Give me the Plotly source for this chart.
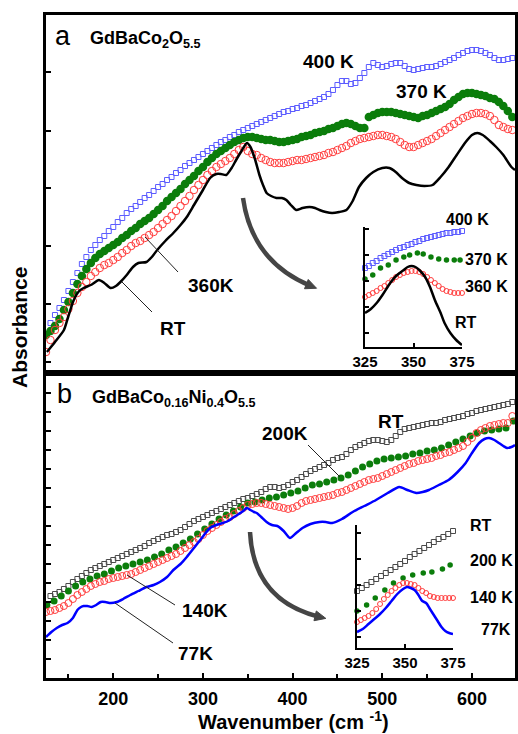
import math
import plotly.graph_objects as go

# ---------------- data (absorbance, arbitrary units) ----------------
# Panel a : GdBaCo2O5.5
A_WN = [125, 130, 135, 140, 145, 150, 155, 160, 165, 170, 175, 180, 185, 190, 195, 200, 205, 210, 215, 220,
        225, 230, 235, 240, 245, 250, 255, 260, 265, 270, 275, 280, 285, 290, 295, 300, 305, 310, 315, 320,
        325, 330, 335, 340, 345, 350, 355, 360, 365, 370, 375, 380, 385, 390, 395, 400, 405, 410, 415, 420,
        425, 430, 435, 440, 445, 450, 455, 460, 465, 470, 475, 480, 485, 490, 495, 500, 505, 510, 515, 520,
        525, 530, 535, 540, 545, 550, 555, 560, 565, 570, 575, 580, 585, 590, 595, 600, 605, 610, 615, 620,
        625, 630, 635, 640, 645]
A_400K = [50, 58, 65, 73, 82, 91, 100, 109, 116, 123,
          128, 133, 137, 142, 146, 151, 155, 160, 164, 167,
          171, 175, 178, 182, 186, 189, 193, 196, 200, 203,
          207, 210, 213, 216, 219, 222, 225, 228, 231, 233,
          236, 238, 241, 243, 245, 247, 249, 251, 253, 255,
          257, 259, 261, 262, 264, 265, 267, 268, 270, 272,
          274, 276, 279, 283, 288, 292, 292, 289, 290, 295,
          300, 306, 310, 308, 306, 307, 309, 310, 310, 307,
          304, 303, 304, 305, 306, 306, 307, 309, 311, 313,
          315, 318, 320, 322, 323, 323, 322, 320, 318, 315,
          313, 313, 314, 315]
A_370K = [38, 42, 47, 54, 63, 71, 80, 89, 97, 104,
          110, 115, 119, 122, 125, 128, 131, 135, 138, 142,
          145, 149, 152, 155, 159, 163, 167, 172, 176, 180,
          184, 189, 193, 197, 202, 206, 211, 215, 219, 222,
          225, 228, 231, 233, 235, 236, 236, 235, 234, 233,
          233, 232, 231, 231, 232, 233, 234, 236, 237, 238,
          240, 241, 242, 244, 245, 247, 249, 250, 249, 247,
          245, 245, 256, 258, 260, 261, 261, 261, 260, 259,
          258, 257, 256, 255, 257, 258, 260, 262, 264, 266,
          269, 273, 276, 279, 280, 280, 279, 278, 277, 275,
          274, 271, 267, 262, 256]
A_360K = [21, 33, 43, 50, 56, 64, 72, 80, 86, 91,
          97, 101, 105, 108, 110, 113, 116, 120, 123, 127,
          130, 132, 135, 138, 141, 145, 149, 153, 157, 162,
          167, 172, 177, 183, 188, 193, 198, 202, 206, 209,
          212, 215, 219, 223, 226, 222, 219, 218, 215, 213,
          211, 210, 210, 210, 211, 212, 213, 213, 214, 215,
          216, 217, 218, 220, 221, 223, 225, 227, 230, 232,
          234, 235, 236, 237, 238, 238, 237, 236, 234, 231,
          228, 226, 226, 228, 230, 232, 234, 237, 240, 243,
          246, 249, 252, 255, 257, 259, 260, 260, 259, 257,
          253, 248, 246, 244, 243]
A_RT_WN = [126, 135, 145, 150, 156, 162, 167, 175, 184, 190, 197, 203, 208, 215, 222, 228, 237, 243, 249, 258,
           267, 275, 282, 290, 300, 308, 315, 320, 326, 332, 337, 343, 349, 353, 358, 363, 367, 371, 376, 382,
           388, 393, 398, 404, 411, 419, 425, 430, 437, 444, 452, 460, 467, 474, 482, 490, 500, 508, 515, 522,
           530, 538, 547, 556, 565, 574, 583, 593, 600, 606, 612, 620, 627, 635, 644, 648]
A_RT = [21, 31, 43, 57, 73, 82, 85, 88, 93, 90, 85, 87, 91, 98, 106, 110, 111, 116, 123, 132,
        140, 148, 156, 168, 183, 195, 199, 199, 198, 205, 213, 222, 230, 226, 214, 198, 188, 180, 177, 175,
        175, 173, 168, 163, 165, 166, 165, 163, 161, 160, 161, 163, 172, 186, 195, 201, 205, 205, 201, 195,
        190, 188, 187, 188, 196, 206, 218, 231, 238, 240, 238, 232, 226, 218, 206, 203]

# Panel b : GdBaCo0.16Ni0.4O5.5
B_WN = A_WN
B_RT = [82, 84, 86, 89, 92, 96, 99, 102, 105, 108,
        110, 112, 114, 116, 118, 120, 122, 124, 126, 128,
        130, 132, 135, 137, 139, 141, 143, 144, 146, 148,
        151, 154, 157, 159, 161, 163, 165, 167, 169, 171,
        173, 175, 177, 179, 180, 182, 184, 186, 189, 191,
        191, 190, 191, 193, 196, 198, 201, 204, 207, 209,
        211, 213, 215, 218, 220, 221, 224, 228, 231, 233,
        235, 237, 238, 238, 237, 236, 238, 242, 246, 249,
        250, 251, 252, 253, 254, 255, 255, 256, 258, 259,
        260, 261, 262, 264, 265, 267, 268, 269, 270, 271,
        272, 273, 274, 276]
B_140K = [66, 67, 68, 70, 72, 75, 79, 83, 86, 89,
          92, 94, 96, 97, 99, 100, 101, 102, 103, 104,
          106, 108, 110, 112, 114, 116, 118, 120, 122, 124,
          127, 130, 133, 136, 139, 143, 147, 150, 153, 156,
          159, 161, 164, 167, 170, 173, 174, 175, 175, 174,
          173, 172, 171, 170, 169, 170, 172, 175, 177, 178,
          179, 180, 181, 182, 183, 185, 186, 188, 190, 192,
          194, 196, 198, 199, 200, 202, 204, 206, 208, 210,
          212, 214, 215, 217, 218, 219, 220, 222, 223, 225,
          226, 228, 230, 232, 236, 240, 245, 248, 250, 252,
          253, 254, 255, 255, 262]
B_200K_WN = [126, 134, 142, 150, 158, 166, 174, 182, 190, 198, 206, 214, 222, 230, 238, 246, 254, 262, 270, 278,
             286, 294, 302, 310, 318, 326, 334, 342, 350, 358, 366, 374, 382, 390, 398, 406, 414, 422, 430, 438,
             446, 454, 462, 470, 478, 486, 494, 502, 510, 518, 526, 534, 542, 550, 558, 566, 574, 582, 590, 598,
             606, 614, 622, 630, 638, 646]
B_200K = [73, 77, 82, 87, 92, 96, 99, 102, 104, 107, 110, 112, 114, 116, 118, 121, 124, 128, 131, 135,
          139, 144, 149, 154, 159, 163, 167, 171, 175, 176, 178, 180, 181, 183, 185, 187, 190, 193, 194, 196,
          198, 200, 203, 207, 211, 214, 217, 219, 220, 221, 222, 224, 225, 227, 228, 230, 233, 236, 239, 242,
          245, 247, 248, 249, 250, 257]
B_77K_WN = [125, 131, 137, 143, 149, 155, 160, 164, 167, 171, 176, 181, 186, 191, 197, 204, 211, 219, 228, 237,
            245, 252, 260, 267, 275, 282, 290, 297, 303, 308, 315, 322, 328, 333, 340, 345, 349, 353, 357, 360,
            365, 371, 377, 383, 390, 397, 404, 411, 420, 430, 437, 444, 455, 467, 480, 493, 506, 519, 528, 538,
            545, 552, 563, 574, 584, 593, 600, 608, 614, 619, 625, 630, 635, 639, 644, 648]
B_77K = [41, 46, 50, 53, 55, 60, 68, 71, 72, 72, 71, 73, 76, 76, 75, 76, 79, 83, 87, 91,
         93, 96, 101, 108, 114, 121, 130, 138, 145, 150, 153, 155, 157, 160, 164, 167, 170, 168, 166, 165,
         161, 156, 153, 152, 147, 140, 145, 150, 154, 156, 156, 155, 159, 166, 172, 178, 185, 191, 188, 185,
         186, 188, 193, 198, 206, 215, 225, 235, 239, 240, 238, 235, 232, 230, 231, 233]

# Inset a (325-375 cm-1)
IA_WN = [325, 327, 329, 331, 333, 335, 337, 339, 341, 343, 345, 347, 349, 351, 353, 355, 357, 359, 361, 363,
         365, 367, 369, 371, 373, 375]
IA_400K = [79, 81, 84, 86, 89, 91, 93, 95, 97, 99, 100, 102, 103, 105, 106, 108, 109, 110, 111, 112,
           113, 114, 114, 115, 115, 116]
IA_360K = [50, 52, 54, 56, 59, 61, 64, 67, 70, 72, 74, 75, 76, 76, 75, 73, 70, 67, 64, 61,
           58, 56, 55, 54, 54, 54]
IA_370K_WN = [325, 329, 333, 337, 341, 345, 348, 352, 355, 359, 363, 367, 371, 374]
IA_370K = [68, 72, 79, 82, 87, 90, 92, 94, 93, 90, 88, 87, 87, 87]
IA_RT_WN = [325, 328, 331, 334, 338, 341, 345, 347, 349, 351, 353, 356, 358.5, 361, 364, 366, 369, 372, 375]
IA_RT = [34, 38, 44, 52, 64, 71, 77, 80, 81, 80, 77, 70, 60, 47, 34, 24, 14, 7, 2]

# Inset b (325-375 cm-1)
IB_RT_WN = [325, 327.5, 330, 332.5, 335, 337.5, 340, 342.5, 345, 347.5, 350, 352.5, 355, 357.5, 360, 362.5,
            365, 367.5, 370, 372.5, 375]
IB_RT = [57, 60, 63, 66, 69, 72, 75, 78, 81, 84, 87, 91, 94, 97, 100, 103, 106, 109, 111, 114, 117]
IB_200K_WN = [325, 330, 334.5, 339.5, 344, 349, 354, 359.5, 364, 369.5, 373.5]
IB_200K = [37, 43, 50, 58, 65, 70, 73, 75, 76, 79, 83]
IB_140K = [26, 28, 30, 32, 35, 39, 44, 49, 53, 57, 60, 63, 65, 65, 64, 63, 60, 57, 55, 52,
           51, 50, 50, 50, 50, 50]
IB_77K_WN = [325, 328, 331, 334, 337, 340, 343, 346, 349, 351, 353, 355, 357, 359, 361, 363, 365, 367, 369, 371,
             373, 375]
IB_77K = [16, 19, 24, 29, 34, 40, 47, 54, 59, 61, 60, 58, 53, 47, 45, 39, 33, 27, 21, 17, 15, 14]

X_TICKS = [200, 300, 400, 500, 600]
X_MINOR = [150, 250, 350, 450, 550]
INSET_TICKS = [325, 350, 375]
YA_TICKS = [11, 69, 127, 185, 242, 301]
YB_TICKS = [19, 38, 57, 76, 95, 114, 133, 152, 171, 190, 209, 228, 247, 266, 285]
YIA_TICKS = [14, 40, 66, 92, 118]
YIB_TICKS = [11, 37, 63, 89, 115]

# ---------------- geometry helpers ----------------
W, H = 518, 734
ML, MR, MT, MB = 46, 3, 15, 56
PW, PH = W - ML - MR, H - MT - MB


def px(x):
    return (x - ML) / PW


def py(y):
    return (H - MB - y) / PH


FONT = "Liberation Sans, Arial, sans-serif"
GREEN = "#0b7d0b"
RED = "#ff3b3b"
BLUE_SQ = "#5c5cff"
GREY_SQ = "#4a4a4a"

fig = go.Figure()


def add(x, y, ax, mode, **kw):
    xa, ya = ax
    fig.add_trace(go.Scatter(x=x, y=y, mode=mode, xaxis=xa, yaxis=ya, showlegend=False,
                             hoverinfo="skip", **kw))


# panel a
add(A_WN[1:], A_400K, ("x", "y"), "markers",
    marker=dict(symbol="square-open", size=5, color=BLUE_SQ, line=dict(width=1, color=BLUE_SQ)))
add(A_WN, A_370K, ("x", "y"), "markers", marker=dict(symbol="circle", size=8.5, color=GREEN))
add(A_WN, A_360K, ("x", "y"), "markers",
    marker=dict(symbol="circle-open", size=7.5, color=RED, line=dict(width=1, color=RED)))
add(A_RT_WN, A_RT, ("x", "y"), "lines", line=dict(color="black", width=2.5, shape="spline", smoothing=0.6))

# panel b
add(B_WN[1:], B_RT, ("x2", "y2"), "markers",
    marker=dict(symbol="square-open", size=5, color=GREY_SQ, line=dict(width=1, color=GREY_SQ)))
add(B_200K_WN, B_200K, ("x2", "y2"), "markers", marker=dict(symbol="circle", size=7, color=GREEN))
add(B_WN, B_140K, ("x2", "y2"), "markers",
    marker=dict(symbol="circle-open", size=7, color=RED, line=dict(width=1, color=RED)))
add(B_77K_WN, B_77K, ("x2", "y2"), "lines", line=dict(color="#0000ff", width=2.5, shape="spline", smoothing=0.6))

# inset a
add(IA_WN, IA_400K, ("x3", "y3"), "markers",
    marker=dict(symbol="square-open", size=5, color=BLUE_SQ, line=dict(width=1, color=BLUE_SQ)), cliponaxis=False)
add(IA_370K_WN, IA_370K, ("x3", "y3"), "markers", marker=dict(symbol="circle", size=5.5, color=GREEN), cliponaxis=False)
add(IA_WN, IA_360K, ("x3", "y3"), "markers",
    marker=dict(symbol="circle-open", size=5, color=RED, line=dict(width=1, color=RED)), cliponaxis=False)
add(IA_RT_WN, IA_RT, ("x3", "y3"), "lines", line=dict(color="black", width=2.5, shape="spline", smoothing=0.8),
    cliponaxis=False)

# inset b
add(IB_RT_WN, IB_RT, ("x4", "y4"), "markers",
    marker=dict(symbol="square-open", size=5, color=GREY_SQ, line=dict(width=1, color=GREY_SQ)), cliponaxis=False)
add(IB_200K_WN, IB_200K, ("x4", "y4"), "markers", marker=dict(symbol="circle", size=5.5, color=GREEN), cliponaxis=False)
add(IA_WN, IB_140K, ("x4", "y4"), "markers",
    marker=dict(symbol="circle-open", size=5, color=RED, line=dict(width=1, color=RED)), cliponaxis=False)
add(IB_77K_WN, IB_77K, ("x4", "y4"), "lines", line=dict(color="#0000ff", width=2.5, shape="spline", smoothing=0.8),
    cliponaxis=False)

frame = dict(showline=True, linecolor="black", linewidth=2.5, mirror=True, showgrid=False, zeroline=False,
             automargin=False)
inset = dict(showline=True, linecolor="black", linewidth=1.5, mirror=False, showgrid=False, zeroline=False,
             ticks="inside", ticklen=4, tickwidth=1.5, tickcolor="black", automargin=False)

fig.update_layout(
    width=W, height=H, autosize=False,
    margin=dict(l=ML, r=MR, t=MT, b=MB, pad=0, autoexpand=False),
    paper_bgcolor="white", plot_bgcolor="white",
    font=dict(family=FONT, color="black"),
    xaxis=dict(domain=[0, 1], anchor="y", range=[125, 648], showticklabels=False, ticks="", **frame),
    yaxis=dict(domain=[py(373), 1], anchor="x", range=[0, 358], showticklabels=False, ticks="inside",
               tickvals=YA_TICKS, ticklen=5, tickwidth=2, tickcolor="black", **frame),
    xaxis2=dict(domain=[0, 1], anchor="y2", range=[125, 648], ticks="inside", tickvals=X_TICKS,
                ticklen=5, tickwidth=2, tickcolor="black",
                minor=dict(tickvals=X_MINOR, ticks="inside", ticklen=4, tickwidth=2, tickcolor="black"),
                tickfont=dict(size=18, weight="bold", family=FONT), ticklabelstandoff=3, **frame),
    yaxis2=dict(domain=[0, py(373)], anchor="x2", range=[0, 305], showticklabels=False, ticks="inside",
                tickvals=YB_TICKS, ticklen=5, tickwidth=2, tickcolor="black", **frame),
    xaxis3=dict(domain=[px(365), px(462)], anchor="y3", range=[325, 375], tickvals=INSET_TICKS,
                tickfont=dict(size=15, weight="bold", family=FONT), **inset),
    yaxis3=dict(domain=[py(347), py(227)], anchor="x3", range=[0, 120], tickvals=YIA_TICKS,
                showticklabels=False, **inset),
    xaxis4=dict(domain=[px(357), px(453)], anchor="y4", range=[325, 375], tickvals=INSET_TICKS,
                tickfont=dict(size=15, weight="bold", family=FONT), **inset),
    yaxis4=dict(domain=[py(648), py(525)], anchor="x4", range=[0, 123], tickvals=YIB_TICKS,
                showticklabels=False, **inset),
)

# ---------------- text ----------------
anns = []


def text(t, x, y, size, bold=True, xanchor="center", yanchor="middle", angle=0):
    anns.append(dict(text=t, x=px(x), y=py(y), xref="paper", yref="paper", showarrow=False,
                     xanchor=xanchor, yanchor=yanchor, textangle=angle,
                     font=dict(size=size, family=FONT, color="black", weight="bold" if bold else "normal")))


text("a", 63, 36, 27, bold=False)
text("GdBaCo<sub>2</sub>O<sub>5.5</sub>", 88, 40, 18, xanchor="left")
text("b", 64, 394, 27, bold=False)
text("GdBaCo<sub>0.16</sub>Ni<sub>0.4</sub>O<sub>5.5</sub>", 90, 399, 18, xanchor="left")

text("400 K", 328, 62, 19)
text("370 K", 421, 91, 19)
text("360K", 211, 285, 19)
text("RT", 173, 328, 19)
text("400 K", 467, 219, 16)
text("370 K", 486, 259, 16)
text("360 K", 486, 286, 16)
text("RT", 466, 322, 16)

text("200K", 285, 433, 19)
text("RT", 391, 421, 19)
text("140K", 205, 610, 19)
text("77K", 195, 653, 19)
text("RT", 481, 525, 16)
text("200 K", 468, 560, 16, xanchor="left")
text("140 K", 468, 597, 16, xanchor="left")
text("77K", 496, 629, 16)

text("Absorbance", 19, 328, 21, angle=-90)
text("Wavenumber (cm <sup>-1</sup>)", 293, 720, 20)
fig.update_layout(annotations=anns)

# ---------------- pointer lines and arrows ----------------
shapes = []
for (x0, y0, x1, y1) in [(145, 237, 178, 272), (122, 282, 152, 312),
                         (308, 445, 340, 477), (127, 575, 175, 605), (115, 603, 173, 643)]:
    shapes.append(dict(type="line", xref="paper", yref="paper", x0=px(x0), y0=py(y0), x1=px(x1), y1=py(y1),
                       line=dict(color="#222222", width=1)))


def P(x, y):
    return f"{px(x):.5f},{py(y):.5f}"


def curved_arrow(p0, c, p2):
    shapes.append(dict(type="path", xref="paper", yref="paper",
                       path=f"M {P(*p0)} Q {P(*c)} {P(*p2)}",
                       line=dict(color="#454545", width=4.5)))
    dx, dy = p2[0] - c[0], p2[1] - c[1]
    n = math.hypot(dx, dy)
    ux, uy = dx / n, dy / n
    vx, vy = -uy, ux
    tip = (p2[0] + ux * 6, p2[1] + uy * 6)
    base = (p2[0] - ux * 5, p2[1] - uy * 5)
    a = (base[0] + vx * 5, base[1] + vy * 5)
    b = (base[0] - vx * 5, base[1] - vy * 5)
    shapes.append(dict(type="path", xref="paper", yref="paper",
                       path=f"M {P(*tip)} L {P(*a)} L {P(*b)} Z",
                       fillcolor="#454545", line=dict(color="#454545", width=1)))


curved_arrow((243, 198), (252, 262), (311, 286))
curved_arrow((250, 532), (253.5, 601), (320, 617))
fig.update_layout(shapes=shapes)

fig.write_html("out.html", config={"responsive": False})
